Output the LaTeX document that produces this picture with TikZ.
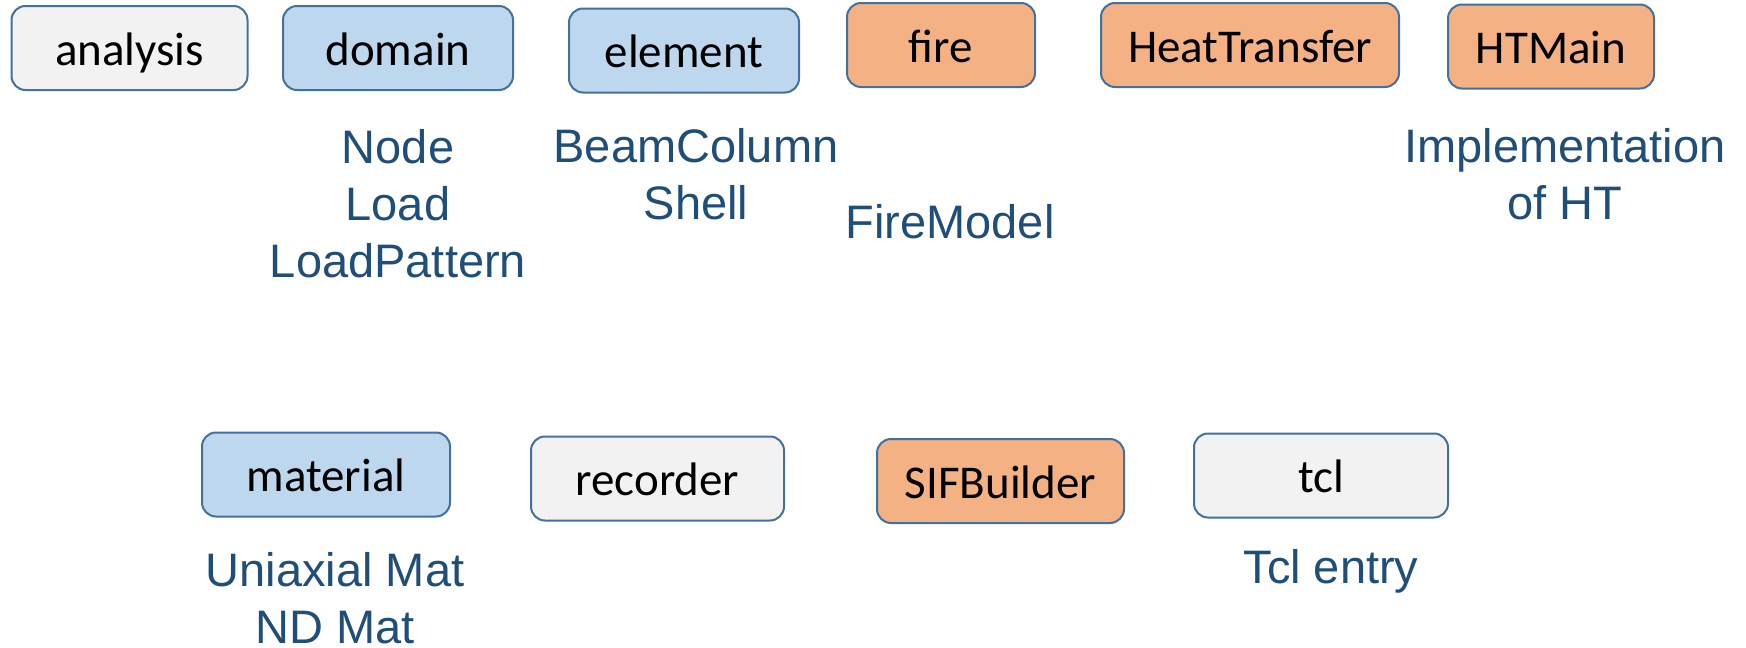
\documentclass[tikz,border=0pt]{standalone}
\usepackage{fontspec}
\newfontfamily\boxfont{Carlito}
\newfontfamily\labelfont{Liberation Sans}
\definecolor{boxline}{HTML}{41719C}
\definecolor{greyfill}{HTML}{F2F2F2}
\definecolor{bluefill}{HTML}{BDD7EE}
\definecolor{orangefill}{HTML}{F4B183}
\definecolor{labeltext}{HTML}{1F4E79}

\begin{document}
\begin{tikzpicture}[x=0.5pt,y=0.5pt,yscale=-1,xscale=1,
  modbox/.style={draw=boxline, line width=1pt, rounded corners=7pt, minimum height=42pt,
    inner sep=0pt, text height=17pt, text depth=0pt, text=black,
    font=\boxfont\fontsize{23.5}{28}\selectfont},
  greybox/.style={modbox, fill=greyfill},
  bluebox/.style={modbox, fill=bluefill},
  orangebox/.style={modbox, fill=orangefill},
  modlabel/.style={anchor=north, inner sep=0pt, align=center, text=labeltext,
    font=\labelfont\fontsize{23.5}{28.3}\selectfont}]
\useasboundingbox (0,0) rectangle (1746,648);

% Top row of modules
\node[greybox, minimum width=118pt] (analysis) at (129.5,48) {analysis};
\node[bluebox, minimum width=115pt] (domain) at (398,48) {domain};
\node[bluebox, minimum width=115pt] (element) at (684,50.5) {element};
\node[orangebox, minimum width=94pt] (fire) at (941,45) {fire};
\node[orangebox, minimum width=149pt] (heattransfer) at (1250,45) {HeatTransfer};
\node[orangebox, minimum width=103pt] (htmain) at (1551,46.5) {HTMain};

% Bottom row of modules
\node[bluebox, minimum width=124pt] (material) at (326,474.5) {material};
\node[greybox, minimum width=126.5pt] (recorder) at (657.5,478.5) {recorder};
\node[orangebox, minimum width=123.5pt] (sifbuilder) at (1000.5,481) {SIFBuilder};
\node[greybox, minimum width=127pt] (tcl) at (1321,475.5) {tcl};

% What each module holds
\node[modlabel] (domainlist) at (398,129.5) {Node\\Load\\LoadPattern};
\node[modlabel] (elementlist) at (696,128) {BeamColumn\\Shell};
\node[modlabel] (firelist) at (950,204) {FireModel};
\node[modlabel] (htmainlist) at (1565,128) {Implementation\\of HT};
\node[modlabel] (materiallist) at (335,552) {Uniaxial Mat\\ND Mat};
\node[modlabel] (tcllist) at (1331,549) {Tcl entry};

\end{tikzpicture}
\end{document}
